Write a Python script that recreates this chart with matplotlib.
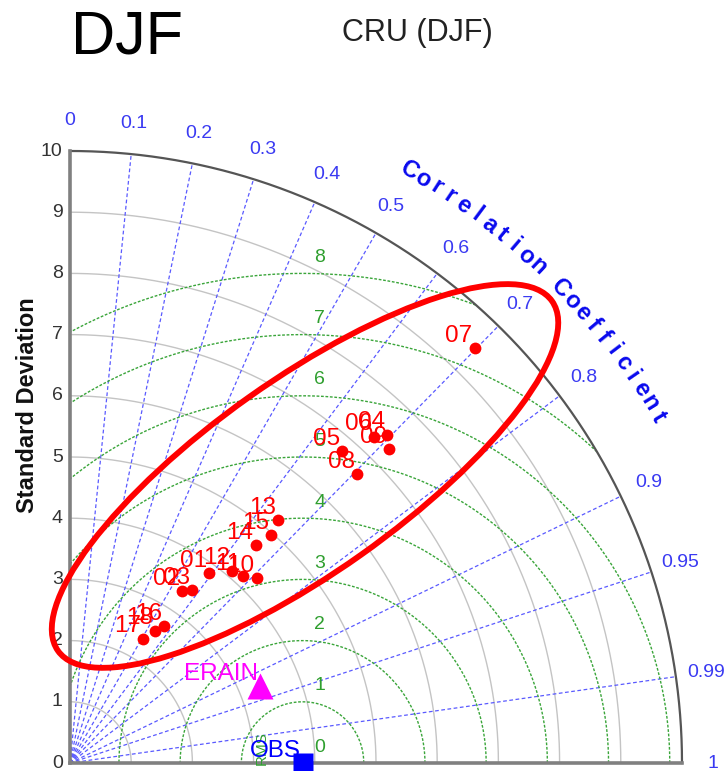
import matplotlib

matplotlib.use("Agg")
import matplotlib.pyplot as plt
import numpy as np
from matplotlib.patches import Ellipse

plt.rcParams["font.family"] = ["Liberation Sans", "DejaVu Sans"]

# model results (std dev, correlation)
model_labels = ["01", "02", "03", "04", "05", "06", "07", "08", "09",
                "10", "11", "12", "13", "14", "15", "16", "17", "18"]
model_std = [3.85, 3.36, 3.46, 7.46, 6.76, 7.29, 9.47, 6.66, 7.31,
             4.29, 4.16, 4.11, 5.23, 4.68, 4.97, 2.72, 2.36, 2.57]
model_corr = [0.592, 0.547, 0.575, 0.695, 0.658, 0.682, 0.698, 0.705, 0.713,
              0.711, 0.678, 0.644, 0.651, 0.648, 0.661, 0.566, 0.507, 0.541]

ref_label = "ERAIN"
ref_std = 3.35
ref_corr = 0.927

obs_label = "OBS"
obs_std = 3.8

std_ticks = list(range(11))
corr_ticks = [0, 0.1, 0.2, 0.3, 0.4, 0.5, 0.6, 0.7, 0.8, 0.9, 0.95, 0.99, 1]
corr_tick_labels = ["0", "0.1", "0.2", "0.3", "0.4", "0.5", "0.6", "0.7",
                    "0.8", "0.9", "0.95", "0.99", "1"]
rms_levels = [0, 1, 2, 3, 4, 5, 6, 7, 8]
std_max = 10

# pixel layout of the diagram (origin and px per unit)
S = 61.2
X0, Y0 = 70, 763
W, H = 727, 771

fig = plt.figure(figsize=(W / 100, H / 100), dpi=100)
ax = fig.add_axes([0, 0, 1, 1])
ax.set_xlim(-X0 / S, (W - X0) / S)
ax.set_ylim((Y0 - H) / S, Y0 / S)
ax.axis("off")

th = np.linspace(0, np.pi / 2, 400)

# std dev grid arcs
for r in std_ticks[1:-1]:
    ax.plot(r * np.cos(th), r * np.sin(th), color="#c4c4c4", lw=1.0, zorder=1)
ax.plot(std_max * np.cos(th), std_max * np.sin(th), color="#555555", lw=1.6, zorder=3)
ax.plot([0, 0], [0, std_max], color="#808080", lw=2.6, zorder=3)
ax.plot([0, std_max], [0, 0], color="#808080", lw=2.6, zorder=3)

# correlation rays
for c in corr_ticks[1:-1]:
    a = np.arccos(c)
    ax.plot([0, std_max * np.cos(a)], [0, std_max * np.sin(a)], color="#5a5aff",
            lw=0.9, ls=(0, (3, 2)), zorder=2)

for c, lab in zip(corr_ticks, corr_tick_labels):
    a = np.arccos(c)
    ax.text(10.5 * np.cos(a), 10.5 * np.sin(a), lab, ha="center", va="center",
            fontsize=14, color="#3a3af2")

# centred RMS circles around the observation
tt = np.linspace(0, np.pi, 1500)
for r in rms_levels[1:]:
    x = obs_std + r * np.cos(tt)
    y = r * np.sin(tt)
    bad = (x < 0) | (x ** 2 + y ** 2 > std_max ** 2)
    x = np.where(bad, np.nan, x)
    y = np.where(bad, np.nan, y)
    ax.plot(x, y, color="#3aa53a", lw=1.0, ls=(0, (2, 1.2)), zorder=2)
for r in rms_levels:
    ax.text(obs_std + 0.28, r + 0.26, str(r), ha="center", va="center",
            fontsize=14, color="#2f9f2f")
ax.text(3.14, 0.25, "RMS", rotation=90, ha="center", va="center",
        fontsize=11, color="#2f9f2f", zorder=4)

# axis labels
for v in std_ticks:
    ax.text(-0.12, v, str(v), ha="right", va="center", fontsize=14, color="#333333")
ax.text(-0.7, 5.85, "Standard Deviation", rotation=90, ha="center", va="center",
        fontsize=17, fontweight="bold", color="#111111")

title_chars = "Correlation Coefficient"
for ch, ang in zip(title_chars, np.linspace(60.2, 30.5, len(title_chars))):
    a = np.radians(ang)
    ax.text(11.15 * np.cos(a), 11.15 * np.sin(a), ch, rotation=ang - 90,
            ha="center", va="center", fontsize=17, fontweight="bold", color="#0a0aee")

# points
for lab, s, c in zip(model_labels, model_std, model_corr):
    a = np.arccos(c)
    px, py = s * np.cos(a), s * np.sin(a)
    ax.plot(px, py, "o", color="#ff0000", ms=8.5, mec="none", zorder=6)
    ax.annotate(lab, (px, py), xytext=(-1.5, 4.5), textcoords="offset points",
                ha="right", va="baseline", fontsize=17.5, color="#ff0000", zorder=7)

a = np.arccos(ref_corr)
ax.plot(ref_std * np.cos(a), ref_std * np.sin(a), "^", color="#ff00ff", ms=19,
        mec="none", zorder=6)
ax.annotate(ref_label, (ref_std * np.cos(a), ref_std * np.sin(a)), xytext=(-1.5, 4.5),
            textcoords="offset points", ha="right", va="baseline", fontsize=17.5,
            color="#ff00ff", zorder=7)

ax.plot(obs_std, 0, "s", color="#0000ff", ms=14, mec="none", zorder=6, clip_on=False)
ax.annotate(obs_label, (obs_std, 0), xytext=(-1, 4.5), textcoords="offset points",
            ha="right", va="baseline", fontsize=17.5, color="#0000ff", zorder=7)

# highlight ellipse
ax.add_patch(Ellipse((3.84, 4.69), 9.89, 3.16, angle=35.3, fill=False,
                     ec="#ff0000", lw=4.2, zorder=8, clip_on=False))

fig.text(127 / W, 1 - 38 / H, "DJF", ha="center", va="center", fontsize=44, color="black")
fig.text(417 / W, 1 - 33 / H, "CRU (DJF)", ha="center", va="center", fontsize=22,
         color="#222222")

fig.savefig("out.png", dpi=100)
